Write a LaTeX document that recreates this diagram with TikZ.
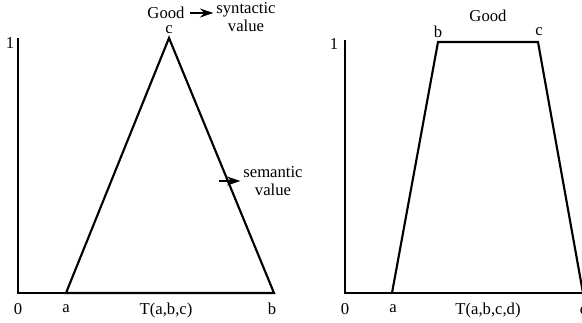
\documentclass[tikz,border=0pt]{standalone}
\usepackage{fontspec}
\setmainfont{Liberation Serif}
\usetikzlibrary{positioning,arrows.meta}

\begin{document}
\begin{tikzpicture}[
  x=0.75pt, y=-0.75pt,
  axis/.style={line width=0.8pt},
  curve/.style={line width=1.6pt, line join=miter},
  lbl/.style={font=\fontsize{12.5}{13}\selectfont, inner sep=0pt},
  pt/.style={inner sep=0pt, minimum size=0pt},
  arrow/.style={-{Stealth[length=3.6mm, width=2.4mm]}, line width=1pt, shorten >=2pt},
]
\useasboundingbox (0,0) rectangle (582,322);

% Left: triangular number
\coordinate (o1) at (18,293);
\coordinate (top1) at (18,38);
\node[pt] (a1) at (66,293) {};
\node[pt] (c1) at (169,38) {};
\node[pt] (b1) at (274,293) {};

\draw[axis] (top1) -- (o1) -- (a1);
\draw[curve] (a1.center) -- (c1.center) -- (b1.center) -- cycle;

\node[lbl] (one1) at (10,43) {1};
\node[lbl] (zero1) at (18,309) {0};
\node[lbl] (la1) at (66,309) {a};
\node[lbl] (lb1) at (272,309) {b};
\node[lbl] (name1) at (166,310) {T(a,b,c)};
\node[lbl] (lc1) at (169,30) {c};
\node[lbl] (good1) at (166,13) {Good};

% Syntactic value
\node[lbl, align=center] (syn) at (246,17) {syntactic\\value};
\draw[arrow] (good1.east) ++(4pt,0) coordinate (s1) -- (syn.west |- s1);

% Semantic value
\node[lbl, align=center] (sem) at (273,181) {semantic\\value};
\coordinate (m1) at (219,181);
\draw[arrow] (m1) -- (sem.west |- m1);

% Right: trapezoidal number
\coordinate (o2) at (345,293);
\coordinate (top2) at (345,40);
\node[pt] (a2) at (392,293) {};
\node[pt] (b2) at (438,42) {};
\node[pt] (c2) at (538,42) {};
\node[pt] (d2) at (583,293) {};

\draw[axis] (top2) -- (o2) -- (d2.center);
\draw[curve] (a2.center) -- (b2.center) -- (c2.center) -- (d2.center);

\node[lbl] (one2) at (334,44) {1};
\node[lbl] (zero2) at (345,309) {0};
\node[lbl] (la2) at (393,309) {a};
\node[lbl] (ld2) at (584,309) {d};
\node[lbl] (name2) at (488,310) {T(a,b,c,d)};
\node[lbl] (lb2) at (438,32) {b};
\node[lbl] (lc2) at (539,32) {c};
\node[lbl] (good2) at (488,16) {Good};

\end{tikzpicture}
\end{document}
